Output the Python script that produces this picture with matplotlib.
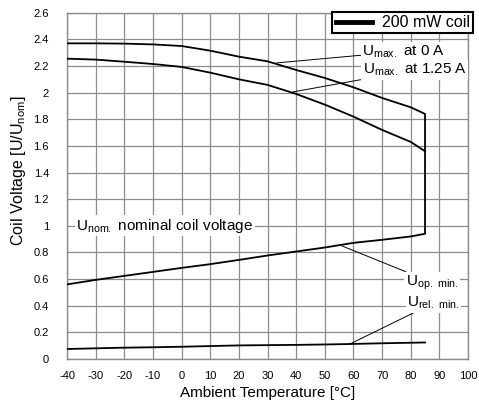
import numpy as np
import matplotlib
matplotlib.use("Agg")
import matplotlib.pyplot as plt
from matplotlib.lines import Line2D

plt.rcParams["font.family"] = ["Liberation Sans", "DejaVu Sans"]
plt.rcParams["mathtext.fontset"] = "custom"
plt.rcParams["mathtext.rm"] = "Liberation Sans"
plt.rcParams["axes.unicode_minus"] = False

# data
temp = [-40, -30, -20, -10, 0, 10, 20, 30, 40, 50, 60, 70, 80, 85]
umax_0a = [2.37, 2.37, 2.368, 2.362, 2.35, 2.315, 2.27, 2.235, 2.17, 2.11, 2.04, 1.96, 1.89, 1.84]
umax_125a = [2.255, 2.248, 2.232, 2.215, 2.193, 2.15, 2.10, 2.058, 1.99, 1.91, 1.82, 1.72, 1.63, 1.56]
uop_min = [0.56, 0.594, 0.624, 0.654, 0.684, 0.712, 0.744, 0.777, 0.807, 0.837, 0.872, 0.895, 0.92, 0.94]
urel_min = [0.075, 0.08, 0.085, 0.088, 0.092, 0.097, 0.102, 0.104, 0.106, 0.109, 0.113, 0.118, 0.122, 0.124]

xticks = list(range(-40, 101, 10))
yticks = [0, 0.2, 0.4, 0.6, 0.8, 1, 1.2, 1.4, 1.6, 1.8, 2, 2.2, 2.4, 2.6]

fig = plt.figure(figsize=(4.79, 4.05), dpi=100)
ax = fig.add_axes([0.140, 0.1136, 0.837, 0.855])

# outer envelope: Umax at 0 A, down the 85 °C edge, back along Uop min
env_x = temp + temp[::-1]
env_y = umax_0a + uop_min[::-1]
ax.plot(env_x, env_y, color="black", lw=1.3, zorder=3)
ax.plot(temp, umax_125a, color="black", lw=1.3, zorder=3)
ax.plot(temp, urel_min, color="black", lw=1.3, zorder=3)

ax.set_xlim(-40, 100)
ax.set_ylim(0, 2.6)
ax.set_xticks(xticks)
ax.set_yticks(yticks)
ax.set_yticklabels(["%g" % v for v in yticks])
ax.tick_params(length=0, labelsize=8)
ax.tick_params(axis="y", pad=13)
ax.tick_params(axis="x", pad=9)
ax.grid(True, color="#8c8c8c", lw=0.9)
ax.set_axisbelow(True)
for s in ax.spines.values():
    s.set_color("#8c8c8c")
    s.set_linewidth(1.0)

ax.set_xlabel("Ambient Temperature [°C]", fontsize=11, labelpad=3)
ax.set_ylabel(r"Coil Voltage [U/U$_{\mathrm{nom}}$]", fontsize=11.5, labelpad=4)
ax.yaxis.label.set_y(0.543)

lbl = dict(fontsize=11, va="center", ha="left",
           bbox=dict(facecolor="white", edgecolor="none", pad=1),
           arrowprops=dict(arrowstyle="-", color="black", lw=0.7,
                           shrinkA=0, shrinkB=0), zorder=4)
ax.annotate(r"U$_{\mathrm{max.}}$ at 0 A", xy=(33.2, 2.223), xytext=(63.0, 2.31), **lbl)
ax.annotate(r"U$_{\mathrm{max.}}$ at 1.25 A", xy=(38.8, 2.005), xytext=(63.2, 2.17), **lbl)
ax.annotate(r"U$_{\mathrm{op.\ min.}}$", xy=(55.9, 0.85), xytext=(78.3, 0.575), **lbl)
ax.annotate(r"U$_{\mathrm{rel.\ min.}}$", xy=(58.8, 0.113), xytext=(78.8, 0.42), **lbl)
ax.text(-36.8, 1.0, r"U$_{\mathrm{nom.}}$ nominal coil voltage", fontsize=11,
        va="center", ha="left", zorder=4,
        bbox=dict(facecolor="white", edgecolor="none", pad=1))

handle = Line2D([], [], color="black", lw=3.5)
leg = ax.legend([handle], ["200 mW coil"], loc="upper right",
                bbox_to_anchor=(1.013, 1.002), fontsize=11.5, fancybox=False,
                framealpha=1, edgecolor="black", handlelength=2.3,
                borderpad=0.2, handletextpad=0.6, borderaxespad=0)
leg.get_frame().set_linewidth(1.5)
leg.set_zorder(5)

fig.savefig("out.png", dpi=100)
